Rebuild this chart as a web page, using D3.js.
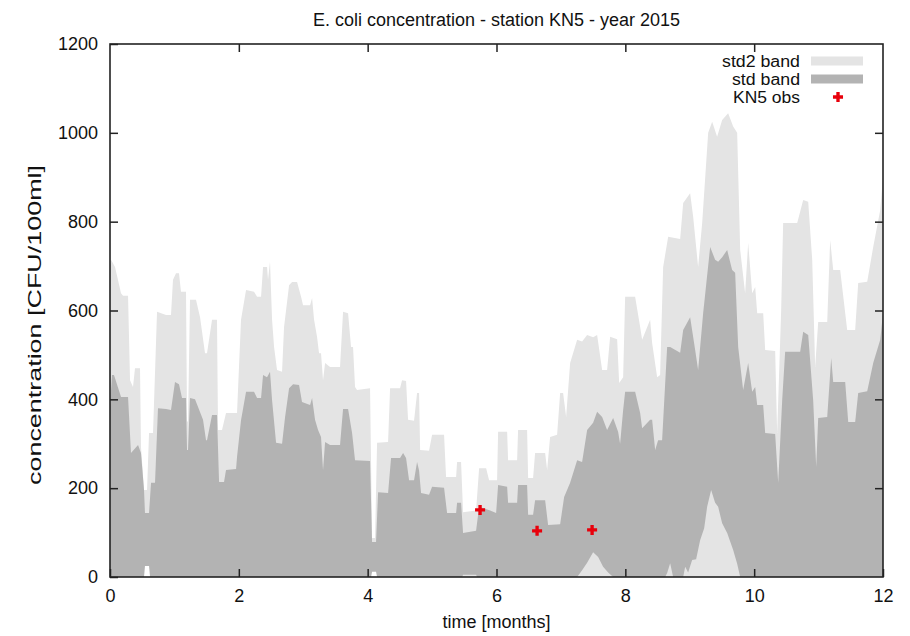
<!DOCTYPE html>
<html lang="en">
<head>
<meta charset="UTF-8">
<title>E. coli concentration - station KN5 - year 2015</title>
<script src="https://d3js.org/d3.v7.min.js"></script>
<style>
    body { margin: 0; background: #fff; }
    svg text { font-family: "Liberation Sans", Arial, Helvetica, sans-serif; fill: #111; }
    .axis path, .axis line { stroke: #222; stroke-width: 1.5; }
    .axis text { font-size: 18px; }
</style>
</head>
<body>
<div id="chart"></div>
<script>
// upper edge of the 2-std band (light) : time in months, value in CFU/100ml
const std2Time = [0.000,0.016,0.078,0.171,0.202,0.280,0.311,0.357,0.388,0.466,0.481,0.528,0.575,0.606,0.668,0.730,0.870,0.947,0.978,1.025,1.071,1.102,1.180,1.196,1.211,1.242,1.335,1.398,1.475,1.506,1.584,1.661,1.677,1.739,1.801,1.972,2.034,2.112,2.236,2.283,2.345,2.376,2.438,2.453,2.484,2.516,2.547,2.593,2.671,2.702,2.780,2.826,2.904,2.966,2.997,3.106,3.137,3.168,3.214,3.245,3.276,3.307,3.339,3.416,3.571,3.618,3.696,3.742,3.773,3.804,3.835,4.037,4.068,4.115,4.146,4.317,4.348,4.503,4.534,4.596,4.627,4.720,4.767,4.798,4.814,4.953,5.000,5.186,5.217,5.373,5.388,5.450,5.481,5.683,5.730,5.839,5.885,6.009,6.025,6.165,6.180,6.320,6.335,6.475,6.491,6.568,6.599,6.755,6.786,6.832,6.941,6.988,7.034,7.081,7.143,7.252,7.329,7.407,7.500,7.562,7.640,7.717,7.764,7.873,7.904,7.966,7.997,8.152,8.230,8.261,8.385,8.416,8.494,8.540,8.587,8.665,8.851,8.898,9.006,9.053,9.130,9.193,9.286,9.348,9.425,9.503,9.596,9.674,9.736,9.783,9.860,9.907,9.969,10.016,10.047,10.140,10.171,10.326,10.357,10.419,10.450,10.668,10.761,10.839,10.901,10.947,10.994,11.134,11.180,11.227,11.335,11.444,11.568,11.615,11.755,11.848,11.957,12.000];
const std2Upper = [700,714,698,639,633,633,443,428,470,470,293,196,196,324,324,597,590,590,669,684,684,642,642,350,350,624,624,585,504,504,579,579,331,331,369,369,579,646,642,631,631,698,698,669,710,579,518,466,462,563,657,664,664,631,612,612,628,579,541,504,504,443,482,473,473,597,594,518,518,428,421,425,88,88,302,304,425,425,443,441,354,352,414,414,286,284,320,320,225,225,259,259,146,150,245,245,218,218,327,327,263,263,331,331,223,223,279,279,241,315,320,414,414,360,482,534,530,545,540,545,466,466,541,535,437,450,631,631,563,534,579,527,450,455,698,766,761,842,864,811,698,797,1000,1025,991,1029,1044,1014,1000,736,639,752,639,653,594,594,511,509,324,600,797,797,849,845,714,473,574,574,759,691,691,556,556,662,665,743,826,901];

// upper edge of the 1-std band (dark)
const stdTime = [0.000,0.031,0.062,0.171,0.280,0.326,0.435,0.481,0.528,0.543,0.606,0.637,0.699,0.745,0.870,0.947,1.009,1.071,1.118,1.180,1.196,1.211,1.242,1.320,1.444,1.491,1.506,1.584,1.661,1.693,1.770,1.801,1.957,1.972,2.034,2.112,2.236,2.283,2.345,2.376,2.438,2.484,2.516,2.578,2.671,2.718,2.780,2.842,2.935,2.981,3.106,3.137,3.183,3.230,3.276,3.307,3.339,3.416,3.571,3.618,3.696,3.758,3.804,4.037,4.068,4.130,4.162,4.317,4.363,4.503,4.550,4.596,4.643,4.720,4.767,4.798,4.829,4.953,5.000,5.186,5.233,5.373,5.388,5.450,5.481,5.683,5.730,5.901,5.994,6.025,6.165,6.180,6.320,6.335,6.475,6.491,6.568,6.599,6.755,6.801,6.988,7.050,7.143,7.252,7.329,7.407,7.500,7.562,7.640,7.717,7.811,7.888,7.919,7.966,7.997,8.152,8.230,8.261,8.385,8.416,8.463,8.509,8.571,8.649,8.696,8.851,8.898,9.006,9.084,9.130,9.208,9.317,9.394,9.441,9.503,9.581,9.658,9.705,9.752,9.829,9.907,9.969,10.016,10.047,10.140,10.171,10.326,10.373,10.435,10.481,10.714,10.761,10.839,10.916,10.963,10.994,11.134,11.196,11.227,11.413,11.460,11.568,11.615,11.755,11.848,11.957,12.000];
const stdUpper = [383,455,455,405,405,279,297,279,196,144,144,212,212,380,378,376,439,434,403,403,286,286,403,400,354,308,308,365,365,214,214,241,243,270,353,417,417,403,403,455,450,462,398,302,300,360,425,434,432,394,387,403,354,331,315,241,304,297,297,378,378,324,263,261,79,79,191,189,268,268,279,268,218,218,259,240,189,185,203,201,144,144,167,167,99,104,158,150,144,207,203,167,167,207,207,140,140,173,173,117,119,180,212,263,259,331,347,372,360,331,358,327,300,376,417,417,369,335,354,354,286,308,308,518,518,505,556,585,511,466,594,743,714,710,720,736,691,685,518,421,482,417,428,387,387,324,322,212,398,507,507,552,545,398,248,358,360,493,439,439,349,349,414,418,482,534,594];

// lower edge of the 1-std band where it rises above zero
const stdLowTime = [0.000,5.466,5.481,5.683,5.699,7.252,7.329,7.407,7.500,7.578,7.655,7.733,7.811,8.618,8.649,8.696,8.742,8.898,8.929,8.975,9.037,9.099,9.161,9.224,9.270,9.332,9.394,9.441,9.503,9.581,9.674,9.736,9.783,12.000];
const stdLower = [0,0,5,5,0,0,15,32,56,45,23,10,0,0,9,31,0,0,23,10,38,40,83,110,158,196,167,158,121,99,61,30,0,0];

// lower edge of the 2-std band where it rises above zero
const std2LowTime = [0.000,0.528,0.543,0.606,0.622,4.053,4.068,4.130,4.146,12.000];
const std2Lower = [0,0,25,25,0,0,12,12,0,0];

// KN5 observations
const obsTime = [5.745, 6.630, 7.484];
const obsValue = [151, 104, 106];

const xTicks = [0, 2, 4, 6, 8, 10, 12];
const yTicks = [0, 200, 400, 600, 800, 1000, 1200];

const W = 910, H = 636;
const margin = { top: 44, right: 27, bottom: 59, left: 110 };
const width = W - margin.left - margin.right;
const height = H - margin.top - margin.bottom;

const LIGHT = "#e4e4e4", DARK = "#b3b3b3", RED = "#e8000b";

const svg = d3.select("#chart").append("svg")
    .attr("width", W).attr("height", H);

svg.append("defs").append("clipPath").attr("id", "plotclip")
    .append("rect").attr("width", width).attr("height", height);

const g = svg.append("g")
    .attr("transform", `translate(${margin.left},${margin.top})`);

const x = d3.scaleLinear().domain([0, 12]).range([0, width]);
const y = d3.scaleLinear().domain([0, 1200]).range([height, 0]);

const zip = (t, v) => t.map((d, i) => [d, v[i]]);
const area = d3.area().x(d => x(d[0])).y0(y(0)).y1(d => y(d[1]));

const plot = g.append("g").attr("clip-path", "url(#plotclip)");

// 2-std band, 1-std band, then what shows through below their lower edges
plot.append("path").datum(zip(std2Time, std2Upper)).attr("d", area).attr("fill", LIGHT);
plot.append("path").datum(zip(stdTime, stdUpper)).attr("d", area).attr("fill", DARK);
plot.append("path").datum(zip(stdLowTime, stdLower)).attr("d", area).attr("fill", LIGHT);
plot.append("path").datum(zip(std2LowTime, std2Lower)).attr("d", area).attr("fill", "#fff");

// observations
const cross = d3.symbol().type(d3.symbolCross).size(56);
plot.selectAll(".obs").data(zip(obsTime, obsValue)).enter()
    .append("path").attr("class", "obs")
    .attr("d", cross)
    .attr("transform", d => `translate(${x(d[0])},${y(d[1])})`)
    .attr("fill", RED);

// axes, ticks pointing inwards on all four sides
const fmt = d3.format("d");
g.append("g").attr("class", "axis")
    .attr("transform", `translate(0,${height})`)
    .call(d3.axisBottom(x).tickValues(xTicks).tickFormat(fmt).tickSizeInner(-8).tickSizeOuter(0).tickPadding(12));
g.append("g").attr("class", "axis")
    .call(d3.axisTop(x).tickValues(xTicks.slice(1, -1)).tickSizeInner(-8).tickSizeOuter(0).tickFormat(""));
g.append("g").attr("class", "axis")
    .call(d3.axisLeft(y).tickValues(yTicks).tickFormat(fmt).tickSizeInner(-8).tickSizeOuter(0).tickPadding(12));
g.append("g").attr("class", "axis")
    .attr("transform", `translate(${width},0)`)
    .call(d3.axisRight(y).tickValues(yTicks.slice(1, -1)).tickSizeInner(-8).tickSizeOuter(0).tickFormat(""));
g.selectAll(".axis .domain").remove();

g.append("rect")
    .attr("width", width).attr("height", height)
    .attr("fill", "none").attr("stroke", "#222").attr("stroke-width", 1.6);

// titles
svg.append("text")
    .attr("x", margin.left + width / 2).attr("y", 26)
    .attr("text-anchor", "middle").attr("font-size", 18)
    .text("E. coli concentration - station KN5 - year 2015");

svg.append("text")
    .attr("x", margin.left + width / 2).attr("y", 628)
    .attr("text-anchor", "middle").attr("font-size", 18)
    .text("time [months]");

svg.append("text")
    .attr("transform", `translate(41,325) rotate(-90)`)
    .attr("text-anchor", "middle").attr("font-size", 18)
    .attr("textLength", 320).attr("lengthAdjust", "spacingAndGlyphs")
    .text("concentration [CFU/100ml]");

// legend
const legendItems = [
    { label: "std2 band", type: "band", color: LIGHT, len: 78 },
    { label: "std band", type: "band", color: DARK, len: 68 },
    { label: "KN5 obs", type: "point", color: RED, len: 67 }
];
const legend = svg.append("g").attr("transform", "translate(800,61)");
legendItems.forEach((d, i) => {
    const row = legend.append("g").attr("transform", `translate(0,${i * 18})`);
    row.append("text").attr("text-anchor", "end").attr("dy", "0.36em")
        .attr("font-size", 16)
        .attr("textLength", d.len).attr("lengthAdjust", "spacingAndGlyphs")
        .text(d.label);
    if (d.type === "band") {
        row.append("rect").attr("x", 11).attr("y", -4.5)
            .attr("width", 52).attr("height", 9).attr("fill", d.color);
    } else {
        row.append("path").attr("d", cross).attr("transform", "translate(38,0)")
            .attr("fill", d.color);
    }
});
</script>
</body>
</html>
